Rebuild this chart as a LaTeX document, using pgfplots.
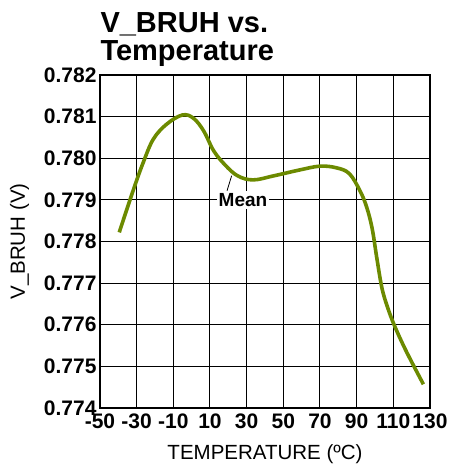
\documentclass[border=0pt]{standalone}
\usepackage{pgfplots}
\pgfplotsset{compat=1.18}
\usepackage{fontspec}
\setmainfont{Liberation Sans}
\definecolor{curve}{RGB}{108,138,0}

\begin{document}
\begin{tikzpicture}
  \begin{axis}[
    scale only axis,
    width=330bp,
    height=333bp,
    xmin=-50, xmax=130,
    ymin=0.774, ymax=0.782,
    xtick={-50,-30,...,130},
    xticklabels={-50,-30,-10,10,30,50,70,90,110,130},
    ytick={0.774,0.775,...,0.7825},
    yticklabels={0.774,0.775,0.776,0.777,0.778,0.779,0.780,0.781,0.782},
    major tick length=0pt,
    grid=major,
    major grid style={black,line width=1bp},
    axis line style={black,line width=2bp},
    ticklabel style={font=\fontsize{21bp}{21bp}\selectfont\bfseries},
    xticklabel style={yshift=-2bp},
    xlabel={TEMPERATURE (ºC)},
    ylabel={V\_BRUH (V)},
    label style={font=\fontsize{20.5bp}{20.5bp}\selectfont},
    xlabel style={yshift=-9bp},
    ylabel style={yshift=8bp},
    clip=false,
  ]
    \addplot[curve, line width=3.6bp, smooth, tension=0.6] coordinates {
      (-39.5,0.77822) (-31.8,0.77924) (-26.4,0.77990) (-20.9,0.78046)
      (-13.6,0.78082) (-5,0.78104) (1,0.78096)
      (6.5,0.78066) (12,0.78018) (18,0.77985) (25,0.77958)
      (33.5,0.77948) (45,0.77958) (59,0.77972)
      (70,0.77981) (79,0.77977) (86,0.77963) (91.8,0.77922)
      (95.5,0.77882) (98.5,0.77830) (101,0.77760) (103.8,0.77688)
      (107,0.77640) (111,0.77594) (117.3,0.77534) (126.4,0.77457)
    };
    \draw[black, line width=0.8bp] (axis cs:19.3,0.77922) -- (axis cs:21.8,0.77958);
    \node[fill=white, inner sep=2bp, font=\fontsize{19bp}{19bp}\selectfont\bfseries]
      at (axis cs:28,0.779) {Mean};
    \node[anchor=base west, font=\fontsize{29bp}{29bp}\selectfont\bfseries]
      at ([xshift=-3bp,yshift=43bp]rel axis cs:0,1) {V\_BRUH vs.};
    \node[anchor=base west, font=\fontsize{29bp}{29bp}\selectfont\bfseries]
      at ([xshift=-3bp,yshift=15bp]rel axis cs:0,1) {Temperature};
  \end{axis}
  \pgfresetboundingbox
  \path[use as bounding box] (-100bp,-62bp) rectangle (355bp,408bp);
\end{tikzpicture}
\end{document}
